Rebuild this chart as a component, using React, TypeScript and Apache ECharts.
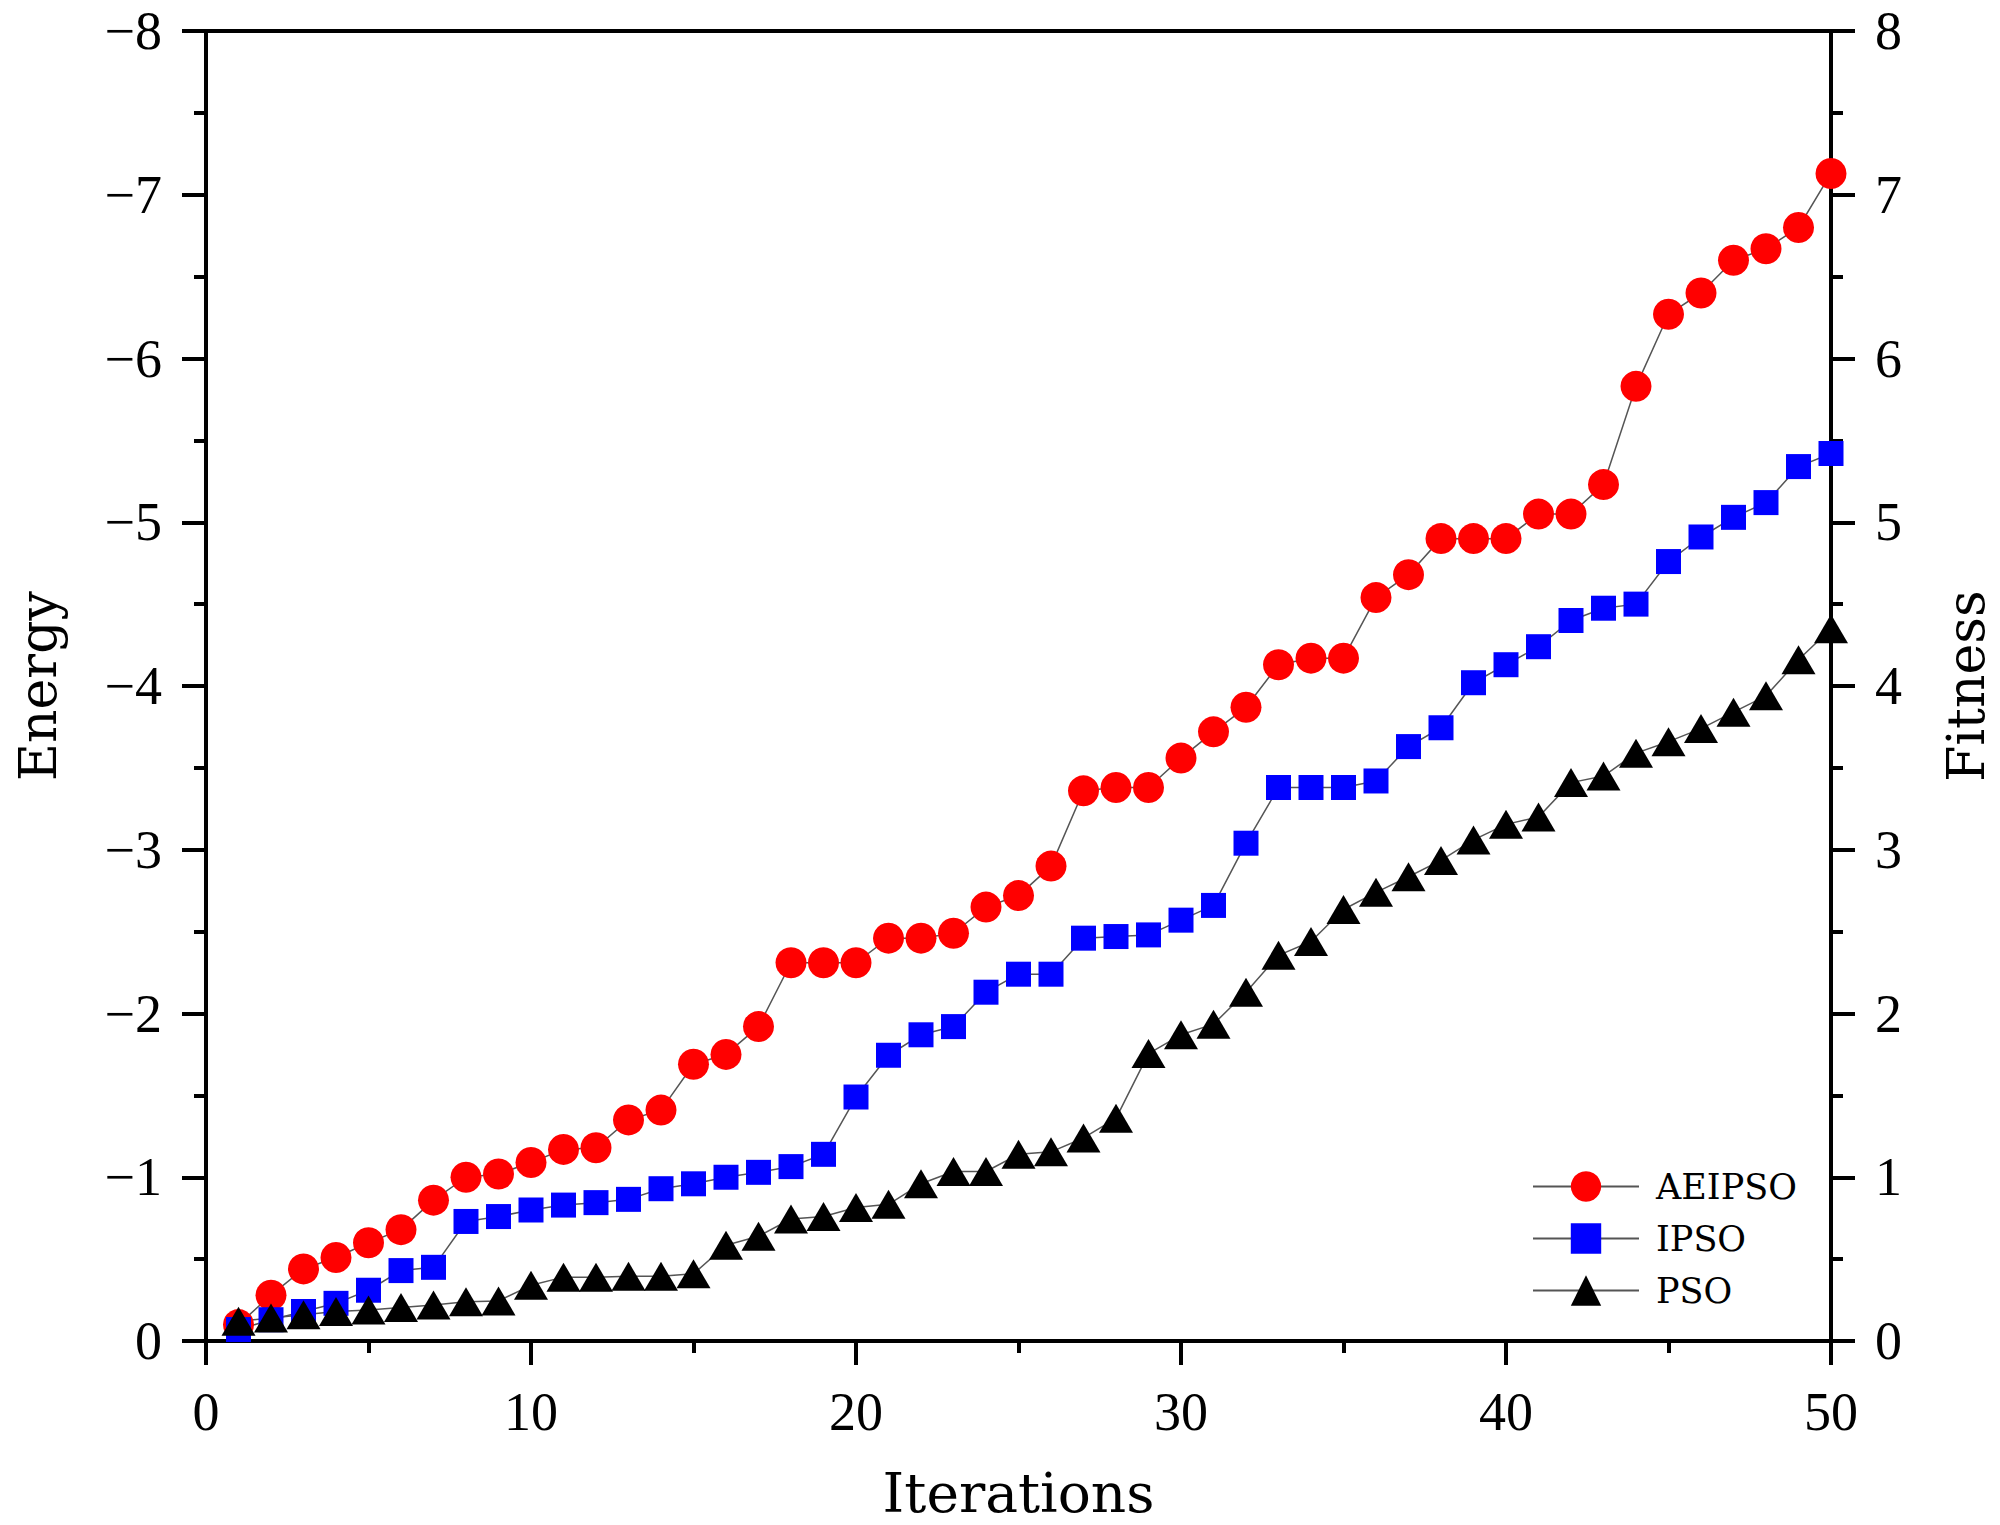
import React, { useEffect, useRef } from 'react';
import * as echarts from 'echarts';

const iterations = [1, 2, 3, 4, 5, 6, 7, 8, 9, 10, 11, 12, 13, 14, 15, 16, 17, 18, 19, 20, 21, 22, 23, 24, 25, 26, 27, 28, 29, 30, 31, 32, 33, 34, 35, 36, 37, 38, 39, 40, 41, 42, 43, 44, 45, 46, 47, 48, 49, 50];

const aeipso = [
  0.10, 0.28, 0.44, 0.51, 0.60, 0.68, 0.86, 1.00, 1.02, 1.09,
  1.17, 1.18, 1.35, 1.41, 1.69, 1.75, 1.92, 2.31, 2.31, 2.31,
  2.46, 2.46, 2.49, 2.65, 2.72, 2.90, 3.36, 3.38, 3.38, 3.56,
  3.72, 3.87, 4.13, 4.17, 4.17, 4.54, 4.68, 4.90, 4.90, 4.90,
  5.05, 5.05, 5.23, 5.83, 6.27, 6.40, 6.60, 6.67, 6.80, 7.13,
];

const ipso = [
  0.07, 0.13, 0.18, 0.23, 0.31, 0.43, 0.45, 0.73, 0.76, 0.80,
  0.83, 0.845, 0.865, 0.93, 0.96, 1.00, 1.03, 1.065, 1.14, 1.49,
  1.745, 1.87, 1.92, 2.13, 2.24, 2.24, 2.46, 2.47, 2.48, 2.57,
  2.66, 3.04, 3.38, 3.38, 3.38, 3.42, 3.63, 3.745, 4.02, 4.13,
  4.24, 4.40, 4.475, 4.50, 4.76, 4.91, 5.03, 5.12, 5.34, 5.42,
];

const pso = [
  0.12, 0.14, 0.16, 0.18, 0.19, 0.205, 0.22, 0.24, 0.245, 0.34,
  0.39, 0.39, 0.395, 0.395, 0.41, 0.585, 0.64, 0.745, 0.76, 0.815,
  0.835, 0.96, 1.035, 1.035, 1.14, 1.155, 1.24, 1.36, 1.755, 1.87,
  1.935, 2.13, 2.355, 2.44, 2.635, 2.74, 2.835, 2.935, 3.06, 3.155,
  3.20, 3.41, 3.45, 3.59, 3.66, 3.74, 3.84, 3.94, 4.16, 4.35,
];

const seriesNames = ['AEIPSO', 'IPSO', 'PSO'];

export default function App() {
  const ref = useRef<HTMLDivElement>(null);

  useEffect(() => {
    const chart = echarts.init(ref.current as HTMLDivElement, null, { renderer: 'svg' });
    const pair = (ys: number[]) => iterations.map((x, i) => [x, ys[i]]);
    const labelFont = 'Liberation Serif';
    const titleFont = 'DejaVu Serif';
    const axisLine = { show: true, onZero: false, lineStyle: { color: '#000', width: 4 } };
    const axisTick = { show: true, length: 24, lineStyle: { color: '#000', width: 4 } };
    const minorTick = { show: true, splitNumber: 2, length: 12, lineStyle: { color: '#000', width: 4 } };
    const labelStyle = { fontFamily: labelFont, fontSize: 54, color: '#000' };
    const nameStyle = { fontFamily: titleFont, fontSize: 52, color: '#000' };
    const lineStyle = { color: '#555', width: 1.5 };

    chart.setOption({
      animation: false,
      backgroundColor: '#fff',
      grid: { left: 206, right: 167, top: 31, bottom: 184 },
      legend: {
        data: seriesNames,
        orient: 'vertical',
        left: 1527,
        top: 1164,
        itemWidth: 106,
        itemHeight: 38,
        itemGap: 17,
        textStyle: { fontFamily: titleFont, fontSize: 35, color: '#000', padding: [0, 0, 0, 12] },
      },
      xAxis: [
        {
          type: 'value',
          min: 0,
          max: 50,
          interval: 10,
          position: 'bottom',
          axisLine,
          axisTick,
          minorTick,
          splitLine: { show: false },
          minorSplitLine: { show: false },
          axisLabel: { ...labelStyle, margin: 44 },
          name: 'Iterations',
          nameLocation: 'middle',
          nameGap: 124,
          nameTextStyle: { ...nameStyle, fontSize: 55 },
        },
        {
          type: 'value',
          min: 0,
          max: 50,
          position: 'top',
          axisLine,
          axisTick: { show: false },
          axisLabel: { show: false },
          splitLine: { show: false },
        },
      ],
      yAxis: [
        {
          type: 'value',
          min: -8,
          max: 0,
          interval: 1,
          inverse: true,
          position: 'left',
          axisLine,
          axisTick,
          minorTick,
          splitLine: { show: false },
          minorSplitLine: { show: false },
          axisLabel: {
            ...labelStyle,
            margin: 44,
            formatter: (v: number) => (v === 0 ? '0' : '\u2212' + Math.abs(v)),
          },
          name: 'Energy',
          nameLocation: 'middle',
          nameRotate: 90,
          nameGap: 142,
          nameTextStyle: nameStyle,
        },
        {
          type: 'value',
          min: 0,
          max: 8,
          interval: 1,
          position: 'right',
          axisLine,
          axisTick,
          minorTick,
          splitLine: { show: false },
          minorSplitLine: { show: false },
          axisLabel: { ...labelStyle, margin: 44 },
          name: 'Fitness',
          nameLocation: 'middle',
          nameRotate: 90,
          nameGap: 109,
          nameTextStyle: nameStyle,
        },
      ],
      series: [
        {
          name: 'AEIPSO',
          type: 'line',
          xAxisIndex: 0,
          yAxisIndex: 1,
          data: pair(aeipso),
          symbol: 'circle',
          symbolSize: 31,
          itemStyle: { color: '#ff0000' },
          lineStyle,
        },
        {
          name: 'IPSO',
          type: 'line',
          xAxisIndex: 0,
          yAxisIndex: 1,
          data: pair(ipso),
          symbol: 'rect',
          symbolSize: 25,
          itemStyle: { color: '#0000ff' },
          lineStyle,
        },
        {
          name: 'PSO',
          type: 'line',
          xAxisIndex: 0,
          yAxisIndex: 1,
          data: pair(pso),
          symbol: 'triangle',
          symbolSize: [34, 29],
          itemStyle: { color: '#000000' },
          lineStyle,
        },
      ],
    });

    return () => chart.dispose();
  }, []);

  return (
    <div
      ref={ref}
      style={{ position: 'absolute', left: 0, top: 0, width: 2000, height: 1525 }}
    />
  );
}
